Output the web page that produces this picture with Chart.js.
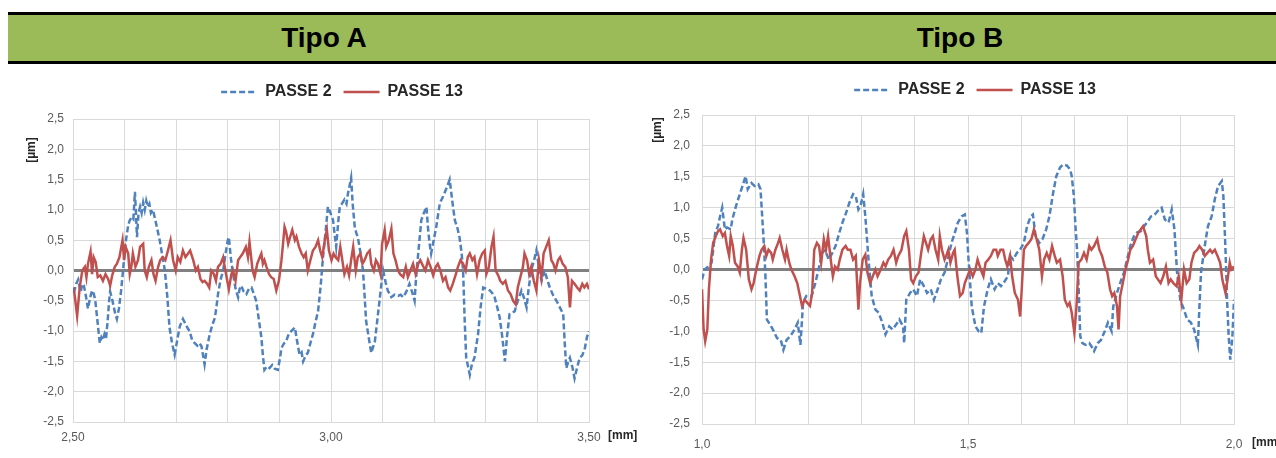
<!DOCTYPE html>
<html>
<head>
<meta charset="utf-8">
<script src="https://cdn.jsdelivr.net/npm/chart.js@4.4.1/dist/chart.umd.min.js"></script>
<style>
  html, body { margin: 0; padding: 0; background: #fff; overflow: hidden; width: 1276px; height: 458px; position: relative; font-family: 'Liberation Sans', Arial, sans-serif; }
  .band { position: absolute; left: 8px; top: 12px; width: 1268px; height: 46px; background: #9bbb59; border-top: 3px solid #000; border-bottom: 3px solid #000; }
  .band span { position: absolute; top: 0; width: 300px; line-height: 46px; text-align: center; font-size: 28px; font-weight: bold; color: #000; }
  canvas { position: absolute; }
</style>
</head>
<body>
<div class="band"><span style="left:166px">Tipo A</span><span style="left:802px">Tipo B</span></div>
<canvas id="chartA" width="684" height="388" style="left:0;top:70px"></canvas>
<canvas id="chartB" width="670" height="388" style="left:640px;top:70px"></canvas>
<script>
// profile data: [x in mm, deviation in µm]
const seriesLabels = ['PASSE 2', 'PASSE 13'];

const tipoA_passe2 = [
  [2.500,-0.30],[2.503,-0.33],[2.506,-0.22],[2.510,-0.15],[2.513,-0.28],[2.515,-0.35],[2.518,-0.22],[2.521,-0.25],
  [2.525,-0.42],[2.529,-0.63],[2.533,-0.45],[2.537,-0.33],[2.540,-0.38],[2.543,-0.48],[2.547,-0.80],[2.550,-1.05],
  [2.552,-1.20],[2.555,-1.10],[2.558,-1.15],[2.561,-1.05],[2.564,-1.12],[2.567,-0.85],[2.570,-0.50],[2.572,-0.35],
  [2.576,-0.48],[2.579,-0.60],[2.582,-0.72],[2.585,-0.80],[2.589,-0.63],[2.593,-0.35],[2.597,0.00],[2.600,0.30],
  [2.603,0.52],[2.607,0.75],[2.610,0.83],[2.614,0.88],[2.617,0.85],[2.620,1.30],[2.622,0.95],[2.624,0.55],
  [2.627,0.95],[2.630,1.05],[2.633,0.95],[2.636,1.12],[2.639,1.00],[2.642,1.15],[2.645,1.05],[2.648,1.10],
  [2.651,0.95],[2.655,1.00],[2.659,0.85],[2.663,0.70],[2.668,0.50],[2.673,0.25],[2.678,0.00],[2.683,-0.45],
  [2.687,-0.94],[2.692,-1.20],[2.697,-1.39],[2.702,-1.15],[2.707,-0.92],[2.713,-0.80],[2.718,-0.88],[2.722,-0.95],
  [2.726,-1.00],[2.731,-1.15],[2.736,-1.20],[2.741,-1.24],[2.745,-1.20],[2.749,-1.25],[2.752,-1.40],[2.755,-1.55],
  [2.759,-1.30],[2.765,-1.05],[2.770,-0.90],[2.775,-0.78],[2.778,-0.60],[2.781,-0.39],[2.786,-0.15],[2.791,0.00],
  [2.796,0.30],[2.800,0.50],[2.802,0.55],[2.806,0.20],[2.810,-0.05],[2.815,-0.30],[2.820,-0.44],[2.823,-0.30],
  [2.826,-0.25],[2.831,-0.35],[2.836,-0.39],[2.841,-0.30],[2.846,-0.28],[2.851,-0.40],[2.855,-0.50],[2.860,-0.80],
  [2.865,-1.10],[2.868,-1.40],[2.871,-1.64],[2.876,-1.58],[2.881,-1.61],[2.886,-1.56],[2.891,-1.62],[2.897,-1.64],
  [2.901,-1.45],[2.904,-1.28],[2.909,-1.20],[2.913,-1.17],[2.918,-1.05],[2.923,-1.00],[2.930,-0.94],[2.934,-1.15],
  [2.939,-1.39],[2.943,-1.35],[2.946,-1.50],[2.951,-1.40],[2.955,-1.36],[2.960,-1.20],[2.965,-1.05],[2.970,-0.85],
  [2.975,-0.67],[2.980,-0.25],[2.984,0.17],[2.989,0.60],[2.994,1.05],[2.999,0.95],[3.004,0.83],[3.007,0.60],
  [3.010,0.39],[3.014,0.80],[3.017,1.05],[3.021,1.10],[3.026,1.17],[3.030,1.10],[3.033,1.28],[3.036,1.40],
  [3.039,1.53],[3.042,1.10],[3.046,0.72],[3.049,0.62],[3.052,0.55],[3.057,0.30],[3.062,0.00],[3.065,-0.40],
  [3.068,-0.83],[3.073,-1.10],[3.078,-1.36],[3.085,-1.17],[3.090,-0.80],[3.094,-0.50],[3.098,-0.20],[3.101,0.00],
  [3.106,-0.20],[3.110,-0.33],[3.117,-0.44],[3.123,-0.40],[3.130,-0.42],[3.135,-0.40],[3.140,-0.44],[3.146,-0.35],
  [3.152,-0.22],[3.157,-0.35],[3.162,-0.50],[3.165,-0.10],[3.169,0.28],[3.172,0.55],[3.175,0.83],[3.180,0.95],
  [3.185,1.05],[3.188,0.70],[3.191,0.45],[3.194,0.28],[3.199,0.50],[3.204,0.72],[3.208,0.95],[3.211,1.11],
  [3.216,1.20],[3.220,1.28],[3.225,1.38],[3.230,1.50],[3.235,1.15],[3.240,0.83],[3.245,0.70],[3.249,0.55],
  [3.253,0.30],[3.256,0.00],[3.259,-0.80],[3.262,-1.44],[3.266,-1.60],[3.269,-1.72],[3.273,-1.55],[3.278,-1.44],
  [3.285,-1.05],[3.290,-0.60],[3.295,-0.28],[3.301,-0.30],[3.308,-0.33],[3.313,-0.38],[3.317,-0.44],[3.322,-0.60],
  [3.327,-0.78],[3.332,-1.10],[3.337,-1.50],[3.341,-1.10],[3.346,-0.72],[3.351,-0.70],[3.356,-0.67],[3.362,-0.50],
  [3.369,-0.33],[3.374,-0.45],[3.379,-0.61],[3.383,-0.30],[3.388,0.00],[3.393,0.15],[3.398,0.33],[3.403,0.05],
  [3.408,-0.17],[3.414,0.00],[3.419,-0.15],[3.424,-0.28],[3.430,-0.40],[3.437,-0.50],[3.443,-0.60],[3.450,-0.72],
  [3.453,-1.20],[3.456,-1.61],[3.460,-1.50],[3.463,-1.44],[3.468,-1.60],[3.472,-1.78],[3.477,-1.60],[3.482,-1.44],
  [3.487,-1.40],[3.492,-1.28],[3.496,-1.10],[3.500,-1.00]
];

const tipoA_passe13 = [
  [2.500,-0.28],[2.503,-0.39],[2.508,-0.75],[2.513,-0.28],[2.518,0.00],[2.523,0.06],[2.526,-0.11],[2.529,0.11],
  [2.534,0.31],[2.537,-0.06],[2.540,0.22],[2.544,0.14],[2.548,-0.11],[2.553,-0.08],[2.558,-0.17],[2.563,-0.06],
  [2.568,-0.14],[2.572,-0.25],[2.576,-0.08],[2.581,0.06],[2.585,0.11],[2.590,0.22],[2.596,0.50],[2.599,0.17],
  [2.602,0.39],[2.607,0.28],[2.610,-0.06],[2.613,0.06],[2.616,0.28],[2.621,0.06],[2.626,0.17],[2.630,0.39],
  [2.636,0.44],[2.639,0.00],[2.643,-0.11],[2.647,0.06],[2.652,0.17],[2.656,-0.06],[2.660,-0.17],[2.665,0.06],
  [2.669,0.17],[2.674,0.22],[2.679,0.17],[2.684,0.33],[2.689,0.50],[2.694,0.17],[2.699,0.00],[2.703,0.22],
  [2.708,0.14],[2.713,0.33],[2.718,0.22],[2.723,0.28],[2.727,0.33],[2.733,0.17],[2.738,0.00],[2.742,0.06],
  [2.747,-0.14],[2.751,-0.19],[2.755,-0.17],[2.760,-0.22],[2.764,-0.28],[2.768,0.00],[2.773,-0.06],[2.777,-0.17],
  [2.781,0.06],[2.786,0.11],[2.791,0.22],[2.794,0.06],[2.797,-0.08],[2.802,-0.31],[2.807,-0.06],[2.810,0.00],
  [2.815,-0.17],[2.820,0.17],[2.824,0.22],[2.829,0.28],[2.835,0.39],[2.839,0.22],[2.842,0.47],[2.848,0.00],
  [2.852,-0.11],[2.857,0.11],[2.862,0.22],[2.865,0.28],[2.868,0.11],[2.871,0.17],[2.875,0.06],[2.880,-0.06],
  [2.884,-0.11],[2.889,-0.14],[2.894,-0.33],[2.899,-0.17],[2.904,0.17],[2.907,0.44],[2.910,0.72],[2.913,0.64],
  [2.917,0.44],[2.921,0.56],[2.925,0.67],[2.930,0.50],[2.933,0.56],[2.938,0.39],[2.943,0.28],[2.947,0.22],
  [2.951,0.28],[2.955,0.00],[2.960,0.17],[2.965,0.33],[2.970,0.39],[2.975,0.50],[2.979,0.33],[2.983,0.22],
  [2.988,0.50],[2.992,0.67],[2.996,0.33],[3.001,0.17],[3.005,0.28],[3.009,0.22],[3.014,0.17],[3.018,0.39],
  [3.023,0.11],[3.026,-0.06],[3.031,0.06],[3.035,-0.08],[3.039,0.17],[3.043,0.39],[3.048,0.00],[3.052,0.22],
  [3.057,0.28],[3.061,0.11],[3.065,0.17],[3.070,0.28],[3.075,0.33],[3.078,0.11],[3.083,0.00],[3.087,0.17],
  [3.091,0.11],[3.096,-0.06],[3.099,0.44],[3.104,0.67],[3.107,0.39],[3.112,0.50],[3.117,0.69],[3.121,0.28],
  [3.125,0.17],[3.130,0.00],[3.134,-0.06],[3.140,-0.11],[3.145,0.06],[3.149,-0.11],[3.154,0.00],[3.159,0.11],
  [3.164,-0.06],[3.169,0.11],[3.173,0.17],[3.178,0.08],[3.183,0.00],[3.188,0.17],[3.193,0.06],[3.198,-0.08],
  [3.203,0.06],[3.207,0.11],[3.212,0.00],[3.217,-0.17],[3.222,-0.11],[3.227,-0.28],[3.231,-0.33],[3.236,-0.22],
  [3.242,-0.06],[3.246,0.06],[3.251,0.17],[3.256,0.11],[3.261,0.00],[3.265,0.22],[3.269,0.28],[3.274,0.17],
  [3.278,0.22],[3.283,-0.06],[3.288,0.17],[3.293,0.28],[3.298,0.33],[3.301,-0.06],[3.306,0.06],[3.311,0.39],
  [3.315,0.56],[3.319,0.00],[3.324,-0.08],[3.328,-0.17],[3.333,-0.22],[3.338,-0.17],[3.343,-0.33],[3.348,-0.39],
  [3.353,-0.50],[3.358,-0.56],[3.362,-0.28],[3.367,-0.11],[3.372,0.06],[3.375,0.28],[3.380,0.17],[3.384,-0.06],
  [3.388,0.06],[3.393,-0.17],[3.398,-0.33],[3.403,0.17],[3.408,-0.11],[3.412,0.28],[3.417,0.39],[3.422,0.50],
  [3.427,0.17],[3.431,0.11],[3.435,0.00],[3.440,0.17],[3.444,0.22],[3.449,0.11],[3.454,0.06],[3.459,-0.11],
  [3.463,-0.61],[3.467,-0.17],[3.472,-0.22],[3.477,-0.28],[3.482,-0.33],[3.487,-0.22],[3.491,-0.28],[3.496,-0.22],
  [3.500,-0.31]
];

const tipoB_passe2 = [
  [1.000,-0.16],[1.005,0.00],[1.012,0.05],[1.018,0.11],[1.025,0.60],[1.030,0.70],[1.034,0.86],[1.038,1.00],
  [1.043,0.65],[1.047,0.68],[1.054,0.65],[1.057,0.81],[1.064,1.03],[1.070,1.19],[1.076,1.35],[1.082,1.51],
  [1.086,1.30],[1.093,1.40],[1.099,1.35],[1.106,1.38],[1.110,1.30],[1.115,0.60],[1.119,-0.05],[1.122,-0.81],
  [1.128,-0.89],[1.135,-1.00],[1.141,-1.11],[1.148,-1.14],[1.153,-1.30],[1.159,-1.14],[1.166,-1.08],[1.174,-0.97],
  [1.180,-0.86],[1.185,-1.22],[1.190,-0.54],[1.196,-0.43],[1.206,-0.43],[1.213,-0.22],[1.219,0.00],[1.226,0.27],
  [1.232,0.32],[1.238,0.16],[1.245,0.27],[1.251,0.38],[1.258,0.59],[1.264,0.76],[1.271,0.92],[1.277,1.08],
  [1.284,1.22],[1.289,1.19],[1.294,0.97],[1.298,1.03],[1.303,1.22],[1.307,0.86],[1.313,0.16],[1.319,-0.43],
  [1.326,-0.65],[1.332,-0.70],[1.339,-0.86],[1.345,-1.05],[1.352,-0.92],[1.358,-0.97],[1.365,-0.89],[1.371,-0.81],
  [1.378,-0.92],[1.380,-1.19],[1.384,-0.49],[1.391,-0.38],[1.397,-0.32],[1.404,-0.43],[1.410,-0.16],[1.417,-0.27],
  [1.423,-0.38],[1.430,-0.32],[1.436,-0.49],[1.443,-0.32],[1.449,-0.16],[1.456,-0.05],[1.462,0.16],[1.469,0.43],
  [1.475,0.59],[1.481,0.76],[1.488,0.86],[1.494,0.89],[1.498,0.60],[1.501,0.16],[1.504,-0.22],[1.507,-0.60],
  [1.514,-0.92],[1.520,-1.00],[1.525,-1.03],[1.530,-0.60],[1.537,-0.32],[1.543,-0.16],[1.550,-0.32],[1.556,-0.22],
  [1.562,-0.27],[1.569,-0.19],[1.575,-0.11],[1.579,0.22],[1.585,0.16],[1.592,0.27],[1.598,0.32],[1.605,0.43],
  [1.611,0.70],[1.618,0.86],[1.622,0.89],[1.627,0.54],[1.634,0.43],[1.640,0.49],[1.647,0.65],[1.653,0.86],
  [1.660,1.24],[1.666,1.51],[1.673,1.65],[1.679,1.70],[1.686,1.68],[1.692,1.62],[1.695,1.51],[1.699,1.19],
  [1.702,0.70],[1.705,0.32],[1.708,-0.32],[1.711,-1.08],[1.715,-1.19],[1.721,-1.22],[1.728,-1.19],[1.734,-1.27],
  [1.737,-1.32],[1.744,-1.19],[1.750,-1.14],[1.757,-1.00],[1.763,-0.86],[1.770,-1.00],[1.773,-0.60],[1.780,-0.38],
  [1.786,-0.22],[1.793,-0.05],[1.799,0.16],[1.805,0.38],[1.812,0.54],[1.818,0.60],[1.825,0.62],[1.831,0.70],
  [1.838,0.78],[1.844,0.86],[1.851,0.89],[1.857,0.95],[1.864,1.00],[1.870,0.81],[1.877,0.76],[1.883,0.97],
  [1.888,0.65],[1.893,-0.05],[1.899,-0.49],[1.906,-0.65],[1.912,-0.81],[1.919,-0.86],[1.925,-0.97],[1.932,-1.22],
  [1.935,-0.60],[1.938,-0.05],[1.945,0.38],[1.951,0.70],[1.958,0.86],[1.964,1.14],[1.970,1.35],[1.977,1.43],
  [1.980,1.19],[1.984,0.32],[1.987,-0.49],[1.990,-1.08],[1.993,-1.46],[1.997,-1.08],[2.000,-0.49]
];

const tipoB_passe13 = [
  [1.000,-0.32],[1.003,-0.97],[1.006,-1.16],[1.010,-0.97],[1.013,-0.32],[1.017,0.16],[1.021,0.43],[1.026,0.54],
  [1.030,0.62],[1.034,0.65],[1.039,0.54],[1.043,0.59],[1.047,0.38],[1.051,0.22],[1.054,0.54],[1.058,0.38],
  [1.062,0.11],[1.067,0.05],[1.071,-0.05],[1.075,0.32],[1.078,0.51],[1.083,0.32],[1.088,-0.16],[1.093,-0.32],
  [1.097,-0.22],[1.102,0.00],[1.108,0.22],[1.112,0.32],[1.117,0.38],[1.121,0.22],[1.125,0.32],[1.130,0.27],
  [1.133,0.16],[1.138,0.32],[1.143,0.43],[1.146,0.51],[1.151,0.32],[1.156,0.16],[1.159,0.32],[1.164,0.11],
  [1.168,0.00],[1.174,-0.11],[1.179,-0.22],[1.183,-0.38],[1.188,-0.59],[1.193,-0.49],[1.198,-0.54],[1.203,-0.59],
  [1.207,-0.38],[1.211,0.32],[1.216,0.43],[1.220,0.38],[1.224,0.11],[1.229,0.49],[1.233,0.32],[1.237,0.54],
  [1.242,0.16],[1.246,-0.11],[1.250,0.05],[1.255,0.00],[1.259,0.16],[1.264,0.32],[1.270,0.38],[1.274,0.32],
  [1.279,0.32],[1.284,0.16],[1.289,0.22],[1.294,-0.65],[1.297,-0.22],[1.302,0.16],[1.307,0.24],[1.311,-0.05],
  [1.316,-0.22],[1.321,-0.11],[1.326,0.00],[1.330,-0.11],[1.336,0.00],[1.341,0.11],[1.345,0.05],[1.350,0.16],
  [1.355,0.22],[1.360,0.32],[1.365,0.11],[1.369,0.22],[1.375,0.32],[1.380,0.54],[1.384,0.62],[1.389,0.32],
  [1.393,-0.16],[1.397,-0.22],[1.402,-0.11],[1.407,-0.05],[1.412,0.27],[1.417,0.54],[1.421,0.43],[1.425,0.32],
  [1.430,0.49],[1.434,0.54],[1.439,0.32],[1.444,0.16],[1.447,0.54],[1.451,0.32],[1.456,0.16],[1.459,0.22],
  [1.463,0.32],[1.467,0.11],[1.472,0.27],[1.475,0.32],[1.480,-0.11],[1.485,-0.43],[1.490,-0.38],[1.494,-0.22],
  [1.499,-0.11],[1.504,0.00],[1.509,-0.11],[1.514,0.00],[1.518,0.16],[1.524,0.00],[1.529,-0.11],[1.533,0.11],
  [1.538,0.16],[1.543,0.22],[1.548,0.32],[1.553,0.32],[1.556,0.22],[1.561,0.32],[1.566,0.32],[1.570,0.16],
  [1.574,0.05],[1.579,0.22],[1.583,-0.11],[1.588,-0.38],[1.594,-0.49],[1.598,-0.76],[1.601,-0.32],[1.605,0.32],
  [1.609,0.38],[1.614,0.43],[1.619,0.49],[1.624,0.65],[1.629,0.49],[1.634,0.32],[1.639,-0.11],[1.643,0.16],
  [1.648,0.27],[1.653,0.16],[1.658,0.38],[1.663,0.22],[1.667,0.11],[1.673,0.16],[1.678,-0.11],[1.682,-0.49],
  [1.687,-0.59],[1.691,-0.54],[1.695,-0.70],[1.700,-1.03],[1.704,-0.59],[1.708,0.11],[1.713,0.16],[1.718,0.27],
  [1.723,0.16],[1.728,0.38],[1.732,0.32],[1.737,0.38],[1.743,0.49],[1.747,0.32],[1.752,0.22],[1.757,0.05],
  [1.762,-0.05],[1.767,-0.32],[1.771,-0.43],[1.775,-0.38],[1.780,-0.59],[1.783,-0.97],[1.786,-0.43],[1.791,-0.22],
  [1.796,0.00],[1.801,0.16],[1.805,0.32],[1.810,0.38],[1.815,0.49],[1.820,0.59],[1.825,0.65],[1.829,0.70],
  [1.835,0.54],[1.838,0.32],[1.842,0.11],[1.848,0.16],[1.853,-0.11],[1.857,-0.16],[1.862,-0.22],[1.867,-0.11],
  [1.872,0.05],[1.877,-0.22],[1.881,-0.16],[1.886,-0.22],[1.892,-0.27],[1.896,-0.11],[1.901,-0.49],[1.906,0.00],
  [1.911,-0.22],[1.916,-0.16],[1.920,0.11],[1.925,0.27],[1.931,0.32],[1.935,0.38],[1.940,0.32],[1.945,0.22],
  [1.950,0.27],[1.955,0.32],[1.959,0.27],[1.964,0.32],[1.969,0.22],[1.974,0.11],[1.978,-0.16],[1.984,-0.38],
  [1.988,-0.16],[1.992,0.11],[1.995,0.00],[2.000,0.05]
];

const BLUE = '#4f81bd';
const RED = '#c0504d';
const GRID = '#d9d9d9';

Chart.defaults.font.family = "'Liberation Sans', Arial, sans-serif";

// extra room between legend and plot
const legendGap = {
  id: 'legendGap',
  beforeInit(chart, args, opts) {
    const fit = chart.legend.fit;
    chart.legend.fit = function () {
      fit.bind(chart.legend)();
      this.height += opts.gap || 0;
    };
  }
};

// [µm] / [mm] unit captions next to the axes
const unitLabels = {
  id: 'unitLabels',
  afterDraw(chart, args, o) {
    const { ctx, chartArea: a } = chart;
    ctx.save();
    ctx.font = "bold 12px 'Liberation Sans', Arial, sans-serif";
    ctx.fillStyle = '#262626';
    ctx.textBaseline = 'middle';
    ctx.textAlign = 'left';
    ctx.fillText('[mm]', a.right + o.xDx, a.bottom + o.xDy);
    ctx.translate(a.left + o.yDx, a.top + o.yDy);
    ctx.rotate(-Math.PI / 2);
    ctx.textAlign = 'center';
    ctx.fillText('[µm]', 0, 0);
    ctx.restore();
  }
};

// legend lines keep the dataset dash pattern
function legendItems(chart) {
  return Chart.defaults.plugins.legend.labels.generateLabels(chart).map(item => {
    const ds = chart.data.datasets[item.datasetIndex];
    item.lineDash = ds.borderDash || [];
    item.lineWidth = ds.borderWidth;
    item.strokeStyle = ds.borderColor;
    return item;
  });
}

function buildProfileChart(canvasId, cfg) {
  const ctx = document.getElementById(canvasId).getContext('2d');
  const toPoints = arr => arr.map(([x, y]) => ({ x, y }));

  return new Chart(ctx, {
    type: 'line',
    data: {
      datasets: [
        {
          label: seriesLabels[0],
          data: toPoints(cfg.passe2),
          borderColor: BLUE,
          backgroundColor: BLUE,
          borderWidth: 2.5,
          borderDash: [6, 3],
          pointRadius: 0,
          tension: 0,
          order: 1
        },
        {
          label: seriesLabels[1],
          data: toPoints(cfg.passe13),
          borderColor: RED,
          backgroundColor: RED,
          borderWidth: 2.5,
          pointRadius: 0,
          tension: 0,
          order: 0
        }
      ]
    },
    plugins: [legendGap, unitLabels],
    options: {
      responsive: false,
      animation: false,
      events: [],
      layout: { padding: { top: cfg.padTop, left: 0, right: 0, bottom: 0 } },
      scales: {
        x: {
          type: 'linear',
          min: cfg.xMin,
          max: cfg.xMax,
          afterFit: s => { s.height = cfg.xAxisHeight; },
          grid: { color: GRID, lineWidth: 1, drawTicks: false },
          border: { color: GRID },
          ticks: {
            stepSize: 0.1,
            autoSkip: false,
            maxRotation: 0,
            padding: cfg.xTickPad,
            color: '#595959',
            font: { size: 12 },
            callback: v => Math.abs(v * 2 - Math.round(v * 2)) < 1e-6 ? v.toFixed(cfg.xDecimals).replace('.', ',') : ''
          }
        },
        y: {
          min: -2.5,
          max: 2.5,
          afterFit: s => { s.width = cfg.yAxisWidth; },
          grid: {
            drawTicks: false,
            color: c => c.tick.value === 0 ? '#808080' : GRID,
            lineWidth: c => c.tick.value === 0 ? 3 : 1
          },
          border: { color: GRID },
          ticks: {
            stepSize: 0.5,
            padding: cfg.yTickPad,
            color: '#595959',
            font: { size: 12 },
            callback: v => v.toFixed(1).replace('.', ',')
          }
        },
        // empty strip on the right so the legend centres like the original
        pad: {
          position: 'right',
          display: true,
          afterFit: s => { s.width = cfg.rightWidth; },
          grid: { display: false, drawTicks: false },
          border: { display: false },
          ticks: { display: false }
        }
      },
      plugins: {
        legendGap: { gap: cfg.legendGap },
        unitLabels: cfg.units,
        tooltip: { enabled: false },
        legend: {
          position: 'top',
          labels: {
            usePointStyle: true,
            pointStyle: 'line',
            pointStyleWidth: 36,
            boxWidth: 36,
            padding: 12,
            color: '#262626',
            font: { size: 16, weight: 'bold' },
            generateLabels: legendItems,
            sort: (a, b) => a.datasetIndex - b.datasetIndex
          }
        }
      }
    }
  });
}

buildProfileChart('chartA', {
  passe2: tipoA_passe2, passe13: tipoA_passe13,
  xMin: 2.5, xMax: 3.5, xDecimals: 2,
  padTop: 2, legendGap: 9, xAxisHeight: 36, yAxisWidth: 73, rightWidth: 95,
  xTickPad: 8, yTickPad: 9,
  units: { xDx: 19, xDy: 14, yDx: -41, yDy: 31 }
});

buildProfileChart('chartB', {
  passe2: tipoB_passe2, passe13: tipoB_passe13,
  xMin: 1.0, xMax: 2.0, xDecimals: 1,
  padTop: 0, legendGap: 7, xAxisHeight: 34, yAxisWidth: 62, rightWidth: 76,
  xTickPad: 13, yTickPad: 12,
  units: { xDx: 18, xDy: 19, yDx: -44, yDy: 15 }
});
</script>
</body>
</html>
